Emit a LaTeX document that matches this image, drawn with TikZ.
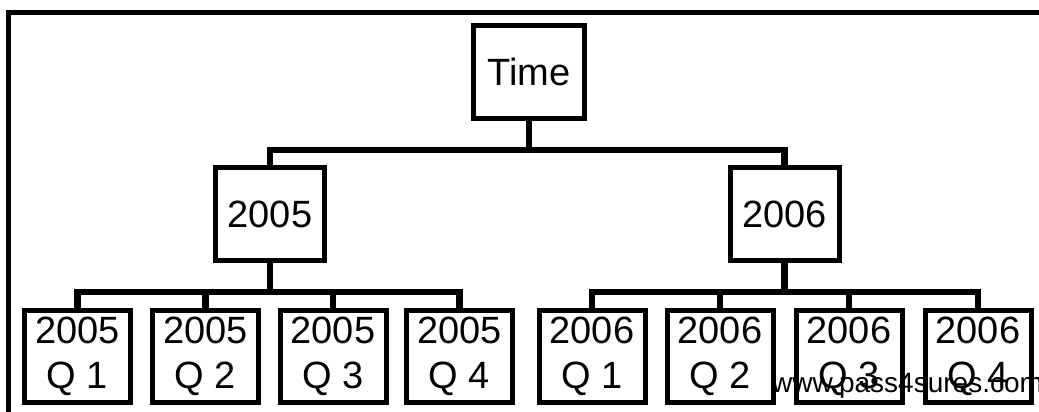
\documentclass[tikz,border=0pt]{standalone}
\usepackage{fontspec}
\setmainfont{Liberation Sans}
\begin{document}
\begin{tikzpicture}[x=1pt,y=-1pt,
  box/.style={draw=black, line width=5pt, fill=white, inner sep=0pt, align=center,
    font=\fontsize{38}{45}\selectfont},
  topbox/.style={box, minimum width=111pt, minimum height=93pt},
  yearbox/.style={box, minimum width=109pt, minimum height=93pt},
  qbox/.style={box, minimum width=106pt, minimum height=92pt},
  link/.style={draw=black, line width=6.5pt},
  frameline/.style={draw=black, line width=4.5pt}]
\useasboundingbox (0,0) rectangle (1039,412);
\fill[white] (0,0) rectangle (1039,412);
\draw[frameline] (8.5,420) -- (8.5,12.3) -- (1045,12.3);

\node[topbox] (t) at (529,72) {Time};
\node[yearbox] (y5) at (270,214) {2005};
\node[yearbox] (y6) at (784.5,214) {2006};

\node[qbox] (a1) at (77.5,356.5) {2005\\Q 1};
\node[qbox] (a2) at (205.5,356.5) {2005\\Q 2};
\node[qbox] (a3) at (333,356.5) {2005\\Q 3};
\node[qbox] (a4) at (459.5,356.5) {2005\\Q 4};
\node[qbox] (b1) at (592,356.5) {2006\\Q 1};
\node[qbox] (b2) at (720,356.5) {2006\\Q 2};
\node[qbox] (b3) at (849,356.5) {2006\\Q 3};
\node[qbox] (b4) at (978,356.5) {2006\\Q 4};

\coordinate (c0) at (529,150);
\coordinate (c5) at (270,292);
\coordinate (c6) at (784.5,292);

\draw[link] (t) -- (c0);
\draw[link] (y5.north) |- (c0) -| (y6.north);

\draw[link] (y5) -- (c5);
\draw[link] (a1.north) |- (c5) -| (a4.north);
\draw[link] (a2.north) -- (a2.north |- c5);
\draw[link] (a3.north) -- (a3.north |- c5);

\draw[link] (y6) -- (c6);
\draw[link] (b1.north) |- (c6) -| (b4.north);
\draw[link] (b2.north) -- (b2.north |- c6);
\draw[link] (b3.north) -- (b3.north |- c6);

\node[anchor=base west, inner sep=0pt, font=\fontsize{28}{30}\selectfont] (wm) at (772,392) {www.pass4sures.com};
\end{tikzpicture}
\end{document}
